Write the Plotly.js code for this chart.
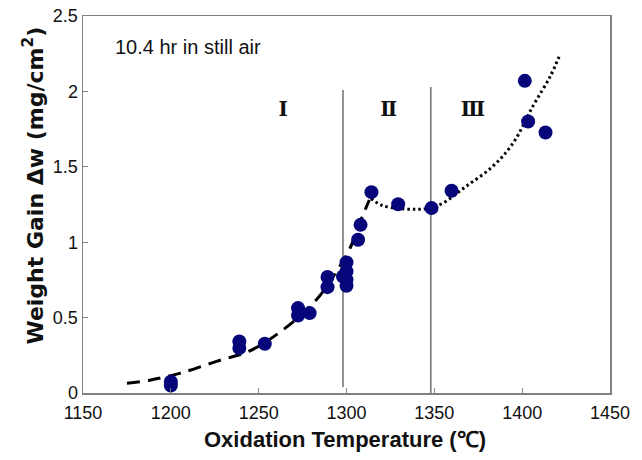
<!DOCTYPE html>
<html>
<head>
<meta charset="utf-8">
<script src="https://cdn.plot.ly/plotly-3.0.1.min.js"></script>
<style>html,body{margin:0;padding:0;background:#fff;}#chart{width:642px;height:460px;}</style>
</head>
<body>
<div id="chart"></div>
<script>
// measured data points: temperature (°C) and weight gain (mg/cm2)
const tempC = [1200, 1200, 1239, 1239, 1253.5, 1272.4, 1272.4, 1279, 1289.2, 1289.2,
               1298, 1300, 1300, 1300, 1300, 1306.6, 1308, 1314.2, 1329.4, 1348.4,
               1359.8, 1401.5, 1403.4, 1413.3];
const weightGain = [0.05, 0.075, 0.342, 0.298, 0.327, 0.563, 0.514, 0.53, 0.769, 0.702,
                    0.773, 0.866, 0.806, 0.751, 0.711, 1.016, 1.115, 1.332, 1.252, 1.226,
                    1.341, 2.07, 1.80, 1.727];

// dashed trend (region I)
const dashX = [1175, 1188, 1205, 1226, 1245, 1264, 1283, 1294, 1302, 1309, 1313];
const dashY = [0.065, 0.085, 0.13, 0.21, 0.28, 0.42, 0.62, 0.80, 0.96, 1.17, 1.28];

// dotted trend (regions II-III)
const dotX = [1314, 1320, 1330, 1340, 1348, 1355, 1368, 1383, 1395, 1406, 1416, 1421];
const dotY = [1.29, 1.245, 1.224, 1.218, 1.228, 1.26, 1.37, 1.50, 1.66, 1.90, 2.10, 2.23];

// region boundaries
const boundaryX = [1298, 1348];
const boundaryBottom = [0.04, 0.0];
const boundaryTop = [2.01, 2.03];

// region labels
const regionLabels = ['Ⅰ', 'Ⅱ', 'Ⅲ'];
const regionX = [1264, 1324, 1372];
const regionY = [1.87, 1.87, 1.87];

const xTicks = [1150, 1200, 1250, 1300, 1350, 1400, 1450];
const yTicks = [0, 0.5, 1, 1.5, 2, 2.5];
const yTickText = ['0', '0.5', '1', '1.5', '2', '2.5'];

const traces = [];
boundaryX.forEach((bx, i) => {
  traces.push({
    x: [bx, bx], y: [boundaryBottom[i], boundaryTop[i]], mode: 'lines',
    line: {color: '#6e6e6e', width: 1.5}, hoverinfo: 'skip', showlegend: false
  });
});
traces.push({
  x: dashX, y: dashY, mode: 'lines',
  line: {color: '#000', width: 3, dash: '13px,8px', shape: 'spline'},
  showlegend: false
});
traces.push({
  x: dotX, y: dotY, mode: 'lines',
  line: {color: '#000', width: 3, dash: '2.5px,3px', shape: 'spline'},
  showlegend: false
});
traces.push({
  x: tempC, y: weightGain, mode: 'markers',
  marker: {color: '#06067a', size: 14, line: {width: 0}},
  showlegend: false
});
traces.push({
  x: regionX, y: regionY, mode: 'text', text: regionLabels,
  textfont: {family: 'DejaVu Serif, Liberation Serif, serif', size: 20, color: '#111', weight: 'bold'},
  hoverinfo: 'skip', showlegend: false
});

const layout = {
  width: 642, height: 460,
  margin: {l: 83, r: 32, t: 16, b: 67},
  paper_bgcolor: '#fff', plot_bgcolor: '#fff',
  font: {family: 'Liberation Sans, Arial, sans-serif', color: '#111'},
  xaxis: {
    range: [1150, 1450], tickvals: xTicks, ticks: 'inside', ticklen: 5,
    tickcolor: '#808080', showline: true, mirror: true, linecolor: '#808080',
    linewidth: 1.5, showgrid: false, zeroline: false, ticklabelstandoff: 3,
    tickfont: {size: 18, color: '#111'}
  },
  yaxis: {
    range: [0, 2.5], tickvals: yTicks, ticktext: yTickText, ticks: 'inside', ticklen: 5,
    tickcolor: '#808080', showline: true, mirror: true, linecolor: '#808080',
    linewidth: 1.5, showgrid: false, zeroline: false,
    tickfont: {size: 18, color: '#111'}
  },
  annotations: [
    {
      x: 1167, y: 2.295, xref: 'x', yref: 'y', xanchor: 'left', yanchor: 'middle',
      text: '10.4 hr in still air', showarrow: false,
      font: {size: 20, color: '#111'}
    },
    {
      x: 0.498, y: -0.124, xref: 'paper', yref: 'paper', xanchor: 'center', yanchor: 'middle',
      text: '<b>Oxidation Temperature (℃)</b>', showarrow: false,
      font: {size: 22, color: '#111', family: 'Liberation Sans, Arial, sans-serif'}
    },
    {
      x: -0.095, y: 0.55, xref: 'paper', yref: 'paper', xanchor: 'center', yanchor: 'middle',
      textangle: -90,
      text: '<b>Weight Gain Δw (mg/cm<sup>2</sup>)</b>', showarrow: false,
      font: {size: 22, color: '#111', family: 'DejaVu Sans, sans-serif'}
    }
  ]
};

Plotly.newPlot('chart', traces, layout, {displayModeBar: false, staticPlot: true});
</script>
</body>
</html>
